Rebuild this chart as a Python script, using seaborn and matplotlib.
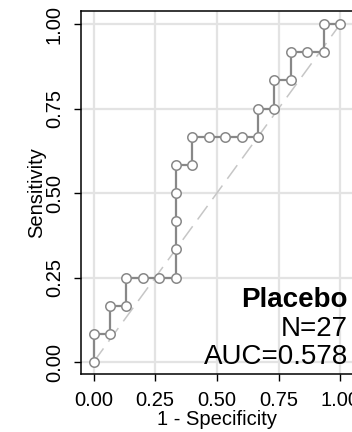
import matplotlib
matplotlib.use("Agg")
import matplotlib.pyplot as plt
import seaborn as sns
import pandas as pd

# ROC curve points (1 - specificity, sensitivity)
fpr = [0, 0, 1/15, 1/15, 2/15, 2/15, 3/15, 4/15, 5/15, 5/15, 5/15, 5/15, 5/15,
       6/15, 6/15, 7/15, 8/15, 9/15, 10/15, 10/15, 11/15, 11/15, 12/15, 12/15,
       13/15, 14/15, 14/15, 1]
tpr = [0, 1/12, 1/12, 2/12, 2/12, 3/12, 3/12, 3/12, 3/12, 4/12, 5/12, 6/12, 7/12,
       7/12, 8/12, 8/12, 8/12, 8/12, 8/12, 9/12, 9/12, 10/12, 10/12, 11/12,
       11/12, 11/12, 1, 1]
ticks = [0.0, 0.25, 0.5, 0.75, 1.0]
tick_labels = ["0.00", "0.25", "0.50", "0.75", "1.00"]
group_name = "Placebo"
n_label = "N=27"
auc_label = "AUC=0.578"

df = pd.DataFrame({"fpr": fpr, "tpr": tpr})

sns.set_theme(style="white")
plt.rcParams["font.family"] = ["Liberation Sans", "DejaVu Sans"]

fig = plt.figure(figsize=(3.52, 4.32), dpi=100)
W, H = 352, 432
ax = fig.add_axes([80.5 / W, (432 - 374) / H, (353 - 80.5) / W, (374 - 11) / H])

ax.set_xlim(-0.053, 1.052)
ax.set_ylim(-0.0355, 1.039)

ax.set_xticks(ticks)
ax.set_yticks(ticks)
ax.set_xticklabels(tick_labels)
ax.set_yticklabels(tick_labels, rotation=90, va="center")
ax.grid(True, color="#e3e3e3", linewidth=1.6)
ax.set_axisbelow(True)

# diagonal reference
ax.plot([0, 1], [0, 1], color="#c6c6c6", linewidth=1.1, dashes=(11, 5.5), zorder=1)

sns.lineplot(data=df, x="fpr", y="tpr", sort=False, estimator=None, ax=ax,
             color="#888888", linewidth=1.6, marker="o", markersize=6.8,
             markerfacecolor="white", markeredgecolor="#888888",
             markeredgewidth=1.1, zorder=3)

for side in ["top", "left", "bottom"]:
    ax.spines[side].set_color("black")
    ax.spines[side].set_linewidth(1.1)
ax.spines["right"].set_visible(False)

ax.tick_params(axis="both", direction="out", length=5, width=1.0, color="black",
               labelsize=14.5, labelcolor="black", pad=7, bottom=True, left=True)

ax.set_xlabel("1 - Specificity", fontsize=14.5, color="black", labelpad=0.5)
ax.set_ylabel("Sensitivity", fontsize=14.5, color="black", labelpad=-1)

ax.text(1.031, 0.164, group_name, ha="right", va="baseline", fontsize=20,
        fontweight="bold", color="black")
ax.text(1.031, 0.078, n_label, ha="right", va="baseline", fontsize=20, color="black")
ax.text(1.031, -0.007, auc_label, ha="right", va="baseline", fontsize=20, color="black")

fig.savefig("out.png", dpi=100)
